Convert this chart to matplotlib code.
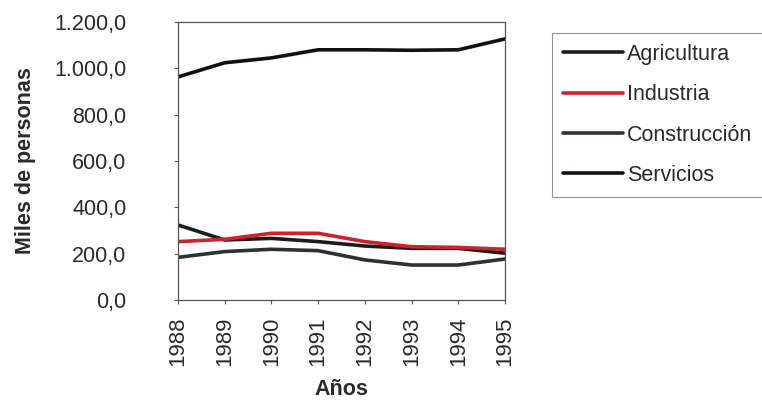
import matplotlib
matplotlib.use('Agg')
import matplotlib.pyplot as plt
from matplotlib.ticker import FuncFormatter

plt.rcParams['font.family'] = ['Liberation Sans', 'DejaVu Sans']

# datos (miles de personas)
anios = ['1988', '1989', '1990', '1991', '1992', '1993', '1994', '1995']
agricultura = [324, 259, 266, 252, 233, 223, 223, 202]
industria = [252, 262, 288, 288, 252, 230, 227, 219]
construccion = [184, 209, 219, 213, 173, 151, 151, 177]
servicios = [963, 1024, 1045, 1080, 1080, 1078, 1080, 1127]

series = [('Agricultura', agricultura, '#1c1c1c'),
          ('Industria', industria, '#c8242c'),
          ('Construcción', construccion, '#2a3333'),
          ('Servicios', servicios, '#101018')]

def formato(v, pos):
    s = f'{v:,.1f}'
    return s.replace(',', 'X').replace('.', ',').replace('X', '.')

fig = plt.figure(figsize=(7.62, 4.0), dpi=100)
ax = fig.add_axes([178/762, 1 - 300/400, (505-178)/762, (300-22)/400])

x = range(len(anios))
for nombre, valores, color in series:
    ax.plot(x, valores, color=color, lw=2.6, label=nombre, solid_capstyle='round')

ax.set_xlim(0, len(anios) - 1)
ax.set_ylim(0, 1200)
ax.set_yticks(range(0, 1201, 200))
ax.yaxis.set_major_formatter(FuncFormatter(formato))
ax.set_xticks(list(x))
ax.set_xticklabels(anios, rotation=90)
ax.tick_params(labelsize=15.5, width=0.8, colors='#555555', labelcolor='#2a2a2a')
ax.tick_params(axis='y', length=3, pad=34)
ax.tick_params(axis='x', length=3, pad=9)
ax.tick_params(axis='x', labelsize=16)
for s in ax.spines.values():
    s.set_color('#555555')
    s.set_linewidth(0.9)

ax.set_xlabel('Años', fontsize=15.5, fontweight='bold', color='#2a2a2a')
ax.set_ylabel('Miles de personas', fontsize=15.5, fontweight='bold', color='#2a2a2a')
ax.yaxis.set_label_coords(-0.434, 0.5)
ax.xaxis.set_label_coords(0.5, -0.285)

leg = fig.legend(loc='upper left', bbox_to_anchor=(552/762, 1 - 33/400),
                 fontsize=15.5, frameon=True, fancybox=False, edgecolor='#777777',
                 handlelength=2.8, handletextpad=0.2, labelspacing=0.9,
                 borderpad=0.5, borderaxespad=0)
leg.get_frame().set_linewidth(0.8)
for t in leg.get_texts():
    t.set_color('#2a2a2a')

plt.savefig('out.png', dpi=100)
